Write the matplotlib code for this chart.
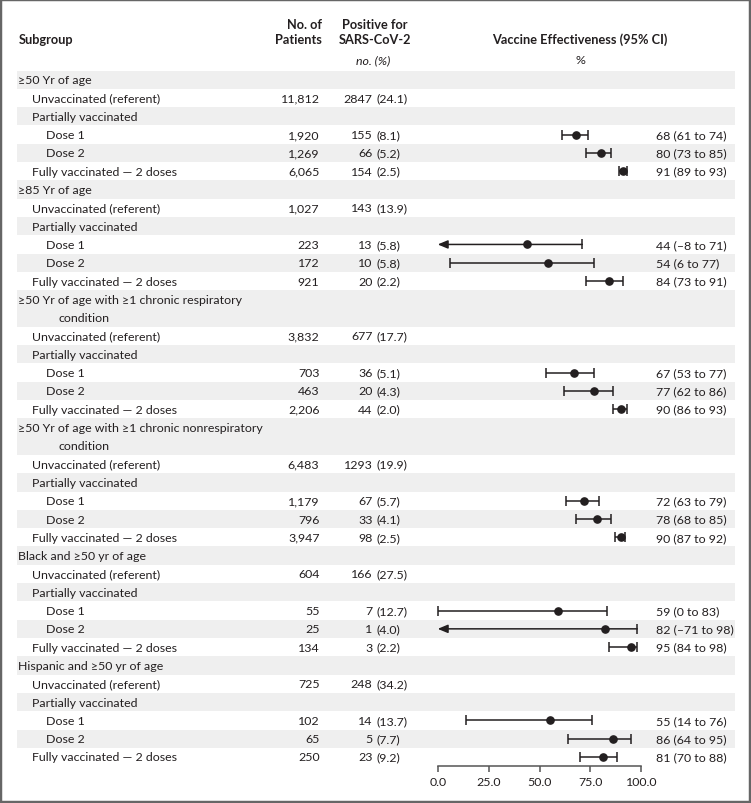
import matplotlib
matplotlib.use('Agg')
import matplotlib.pyplot as plt
from matplotlib.transforms import blended_transform_factory
from matplotlib.patches import Rectangle

plt.rcParams['font.family'] = ['Lato', 'DejaVu Sans']

# ---------------- data ----------------
groups = [
    ["≥50 Yr of age"],
    ["≥85 Yr of age"],
    ["≥50 Yr of age with ≥1 chronic respiratory", "condition"],
    ["≥50 Yr of age with ≥1 chronic nonrespiratory", "condition"],
    ["Black and ≥50 yr of age"],
    ["Hispanic and ≥50 yr of age"],
]
row_labels = ["Unvaccinated (referent)", "Partially vaccinated", "Dose 1", "Dose 2",
              "Fully vaccinated — 2 doses"]
# patients / positives for: unvaccinated, dose 1, dose 2, fully vaccinated
patients = [
    [11812, 1920, 1269, 6065],
    [1027, 223, 172, 921],
    [3832, 703, 463, 2206],
    [6483, 1179, 796, 3947],
    [604, 55, 25, 134],
    [725, 102, 65, 250],
]
positives = [
    [2847, 155, 66, 154],
    [143, 13, 10, 20],
    [677, 36, 20, 44],
    [1293, 67, 33, 98],
    [166, 7, 1, 3],
    [248, 14, 5, 23],
]
positive_pct = [
    [24.1, 8.1, 5.2, 2.5],
    [13.9, 5.8, 5.8, 2.2],
    [17.7, 5.1, 4.3, 2.0],
    [19.9, 5.7, 4.1, 2.5],
    [27.5, 12.7, 4.0, 2.2],
    [34.2, 13.7, 7.7, 9.2],
]
# vaccine effectiveness for: dose 1, dose 2, fully vaccinated
ve_est = [[68, 80, 91], [44, 54, 84], [67, 77, 90], [72, 78, 90], [59, 82, 95], [55, 86, 81]]
ve_lo = [[61, 73, 89], [-8, 6, 73], [53, 62, 86], [63, 68, 87], [0, -71, 84], [14, 64, 70]]
ve_hi = [[74, 85, 93], [71, 77, 91], [77, 86, 93], [79, 85, 92], [83, 98, 98], [76, 95, 88]]
x_ticks = [0, 25, 50, 75, 100]
x_tick_labels = ["0.0", "25.0", "50.0", "75.0", "100.0"]

# ---------------- layout ----------------
W, H = 751, 804
fig = plt.figure(figsize=(W / 100, H / 100), dpi=100)
TXT = '#231f20'
SHADE = '#efefef'
FS = 8.9
HFS = 9.2

px_per_unit = 2.036
x0_px = 437.7
left_px, right_px = 17, 735
line0_px, line_sp = 80.7, 18.305
axis_px = 767.3
top_px = line0_px - line_sp / 2

ax = fig.add_axes([left_px / W, 1 - axis_px / H, (right_px - left_px) / W, (axis_px - top_px) / H])
ax.set_xlim((left_px - x0_px) / px_per_unit, (right_px - x0_px) / px_per_unit)
ax.set_ylim((axis_px - line0_px) / line_sp, -0.5)
for s in ['top', 'left', 'right']:
    ax.spines[s].set_visible(False)
ax.spines['bottom'].set_bounds(0, 100)
ax.spines['bottom'].set_color('#555555')
ax.spines['bottom'].set_linewidth(1.1)
ax.set_yticks([])
ax.set_xticks(x_ticks)
ax.set_xticklabels(x_tick_labels)
ax.tick_params(axis='x', direction='out', length=4.5, width=1.1, color='#555555',
               labelcolor=TXT, labelsize=FS, pad=2.5)
ax.patch.set_visible(False)

tr = blended_transform_factory(fig.transFigure, ax.transData)


def tx(xpx, y, s, **kw):
    kw.setdefault('fontsize', FS)
    kw.setdefault('color', TXT)
    kw.setdefault('va', 'center')
    ax.text(xpx / W, y, s, transform=tr, clip_on=False, **kw)


def fx(xpx, ypx, s, **kw):
    kw.setdefault('fontsize', FS)
    kw.setdefault('color', TXT)
    kw.setdefault('va', 'center')
    fig.text(xpx / W, 1 - ypx / H, s, **kw)


# headers
fx(19, 40, "Subgroup", fontweight='bold', fontsize=HFS)
fx(322, 25, "No. of", ha='right', fontweight='bold', fontsize=HFS)
fx(322, 40, "Patients", ha='right', fontweight='bold', fontsize=HFS)
fx(375, 25, "Positive for", ha='center', fontweight='bold', fontsize=HFS)
fx(375, 40, "SARS-CoV-2", ha='center', fontweight='bold', fontsize=HFS)
fx(373, 61, "no. (%)", ha='center', fontstyle='italic')
fx(580, 40, "Vaccine Effectiveness (95% CI)", ha='center', fontweight='bold', fontsize=HFS)
fx(580, 60, "%", ha='center')

IND0, IND1, IND2, IND_WRAP = 18.5, 32.3, 45.7, 58.3
PAT_X, POS_NUM_X, POS_PCT_X, VE_X = 319.5, 372.5, 376.0, 656.5

line = 0
row = 0


def shade(y0, nlines):
    global row
    if row % 2 == 0:
        ax.axhspan(y0 - 0.5, y0 + nlines - 0.5, color=SHADE, lw=0, zorder=0)
    row += 1


def ci(y, est, lo, hi):
    c = '#231f20'
    if lo < 0:
        ax.annotate('', xy=(0, y), xytext=(hi, y),
                    arrowprops=dict(arrowstyle='-|>,head_length=0.6,head_width=0.25',
                                    lw=1.1, color=c, shrinkA=0, shrinkB=0, mutation_scale=10))
        ax.plot([hi], [y], marker='|', ms=6.5, mew=1.1, color=c)
    else:
        ax.plot([lo, hi], [y, y], color=c, lw=1.1, solid_capstyle='butt')
        ax.plot([lo, hi], [y, y], ls='none', marker='|', ms=6.5, mew=1.1, color=c)
    ax.plot([est], [y], marker='o', ms=5.2, color=c, mec=c, zorder=5)


for g in range(len(groups)):
    # group header
    n = len(groups[g])
    shade(line, n)
    for k, t in enumerate(groups[g]):
        tx(IND0 if k == 0 else IND_WRAP, line + k, t)
    line += n
    entries = [(row_labels[0], IND1, 0, None),
               (row_labels[1], IND1, None, None),
               (row_labels[2], IND2, 1, 0),
               (row_labels[3], IND2, 2, 1),
               (row_labels[4], IND1, 3, 2)]
    for label, ind, di, vi in entries:
        shade(line, 1)
        tx(ind, line, label)
        if di is not None:
            tx(PAT_X, line, f"{patients[g][di]:,}", ha='right')
            tx(POS_NUM_X, line, f"{positives[g][di]}", ha='right')
            tx(POS_PCT_X, line, f"({positive_pct[g][di]:.1f})", ha='left')
        if vi is not None:
            e, lo, hi = ve_est[g][vi], ve_lo[g][vi], ve_hi[g][vi]
            ci(line, e, lo, hi)
            tx(VE_X, line, f"{e} ({lo} to {hi})".replace('-', '–'), ha='left')
        line += 1

# frame
fig.patches.append(Rectangle((0, 0), 1, 1, transform=fig.transFigure, fill=False,
                             edgecolor='#666666', lw=3.2))

fig.savefig('out.png', dpi=100)
